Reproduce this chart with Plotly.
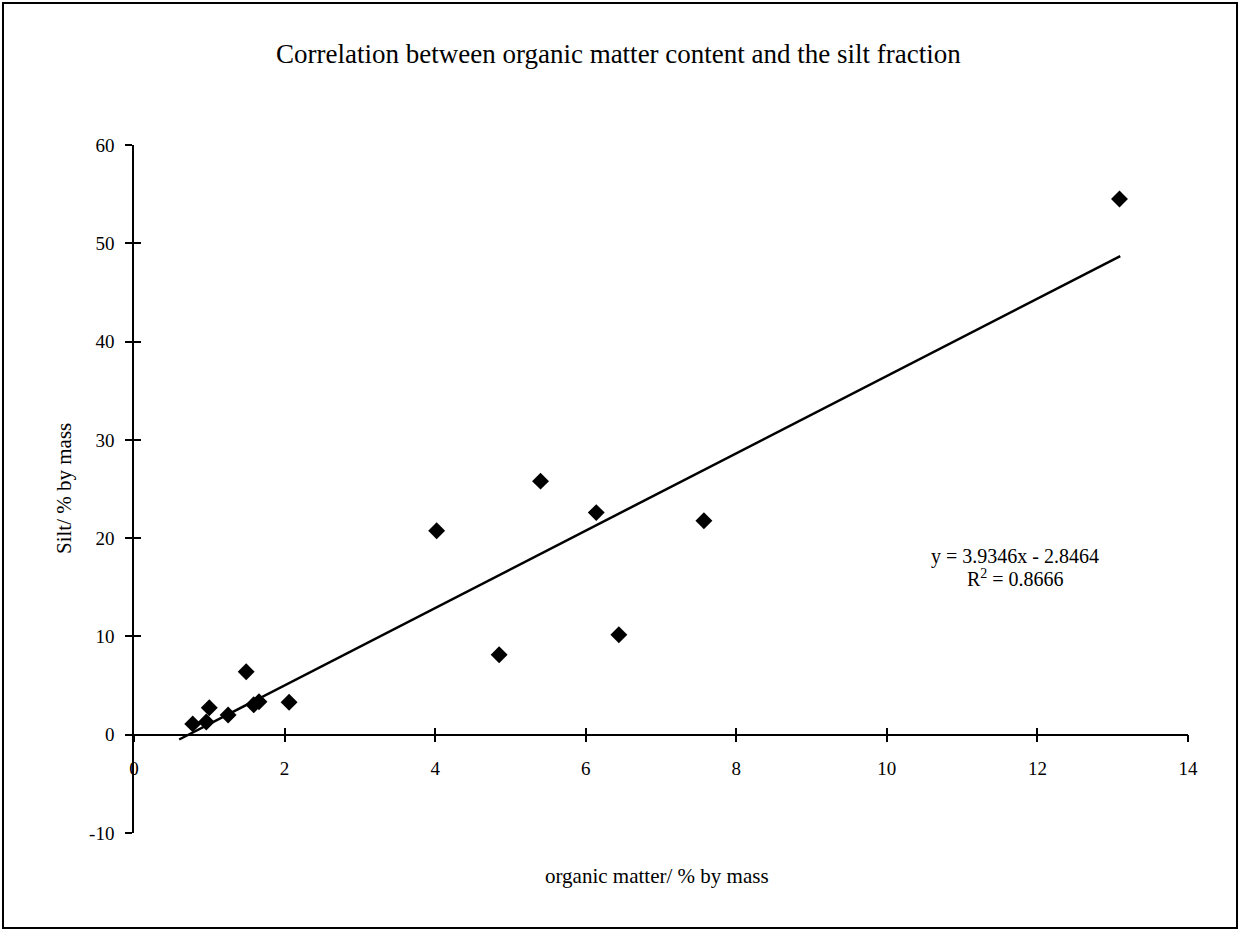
import plotly.graph_objects as go

# data
organic_matter = [0.78, 0.96, 1.00, 1.25, 1.49, 1.59, 1.66, 2.06, 4.02, 4.85, 5.40, 6.14, 6.44, 7.57, 13.09]
silt = [1.1, 1.3, 2.75, 2.0, 6.4, 3.05, 3.36, 3.3, 20.75, 8.14, 25.8, 22.6, 10.17, 21.77, 54.5]
slope = 3.9346
intercept = -2.8464
r_squared = 0.8666
trend_x = [0.6, 13.1]
trend_y = [slope * v + intercept for v in trend_x]

x_ticks = [0, 2, 4, 6, 8, 10, 12, 14]
x_tick_labels = ["0", "2", "4", "6", "8", "10", "12", "14"]
y_ticks = [-10, 0, 10, 20, 30, 40, 50, 60]
y_tick_labels = ["-10", "0", "10", "20", "30", "40", "50", "60"]
x_range = [0, 14]
y_range = [-10, 60]

FONT = "Liberation Serif"
W, H = 1241, 931
ml, mr, mt, mb = 134, 53, 145, 98
pw, ph = W - ml - mr, H - mt - mb
zero_pos = (0 - y_range[0]) / (y_range[1] - y_range[0])


def px(xpix):
    return (xpix - ml) / pw


def py(ypix):
    return (H - mb - ypix) / ph


fig = go.Figure()
fig.add_trace(go.Scatter(x=trend_x, y=trend_y, mode="lines",
                         line=dict(color="black", width=2.5), hoverinfo="skip"))
fig.add_trace(go.Scatter(x=organic_matter, y=silt, mode="markers",
                         marker=dict(symbol="diamond", size=13, color="black")))
# invisible trace to activate overlay axes (inside ticks -> crossing ticks)
fig.add_trace(go.Scatter(x=organic_matter, y=silt, mode="markers", xaxis="x2", yaxis="y2",
                         marker=dict(opacity=0), hoverinfo="skip"))

axis_common = dict(showgrid=False, zeroline=False, tickfont=dict(family=FONT, size=19, color="black"))

fig.update_layout(
    width=W, height=H,
    margin=dict(l=ml, r=mr, t=mt, b=mb),
    paper_bgcolor="white", plot_bgcolor="white",
    showlegend=False,
    font=dict(family=FONT, color="black"),
    xaxis=dict(range=x_range, tickvals=x_ticks, ticktext=x_tick_labels, anchor="free", position=zero_pos,
               showline=True, linecolor="black", linewidth=1.5,
               ticks="outside", ticklen=7, tickwidth=1.5, tickcolor="black",
               ticklabelstandoff=10, **axis_common),
    yaxis=dict(range=y_range, tickvals=y_ticks, ticktext=y_tick_labels,
               showline=True, linecolor="black", linewidth=1.5,
               ticks="outside", ticklen=7, tickwidth=1.5, tickcolor="black",
               ticklabelstandoff=7, **axis_common),
    xaxis2=dict(range=x_range, tickvals=x_ticks, overlaying="x", anchor="free", position=zero_pos,
                showline=False, ticks="inside", ticklen=7, tickwidth=1.5, tickcolor="black",
                showticklabels=False, showgrid=False, zeroline=False),
    yaxis2=dict(range=y_range, tickvals=y_ticks, overlaying="y", anchor="x2", side="left",
                showline=False, ticks="inside", ticklen=7, tickwidth=1.5, tickcolor="black",
                showticklabels=False, showgrid=False, zeroline=False),
)

# titles as annotations
fig.add_annotation(text="Correlation between organic matter content and the silt fraction",
                   xref="paper", yref="paper", x=px(618), y=py(54),
                   showarrow=False, font=dict(family=FONT, size=27), xanchor="center", yanchor="middle")
fig.add_annotation(text="organic matter/ % by mass",
                   xref="paper", yref="paper", x=px(657), y=py(876),
                   showarrow=False, font=dict(family=FONT, size=21), xanchor="center", yanchor="middle")
fig.add_annotation(text="Silt/ % by mass", textangle=-90,
                   xref="paper", yref="paper", x=px(64), y=py(489),
                   showarrow=False, font=dict(family=FONT, size=21), xanchor="center", yanchor="middle")
fig.add_annotation(text=f"y = {slope}x - {abs(intercept)}",
                   xref="paper", yref="paper", x=px(1015), y=py(556),
                   showarrow=False, font=dict(family=FONT, size=20), xanchor="center", yanchor="middle")
fig.add_annotation(text=f"R<sup>2</sup> = {r_squared}",
                   xref="paper", yref="paper", x=px(1015), y=py(578),
                   showarrow=False, font=dict(family=FONT, size=20), xanchor="center", yanchor="middle")

# outer frame
fig.add_shape(type="rect", xref="paper", yref="paper",
              x0=px(3), x1=px(1237), y0=py(928), y1=py(3),
              line=dict(color="black", width=2))

fig.write_html("out.html", config={"displayModeBar": False},
               post_script="document.body.style.margin='0';")
